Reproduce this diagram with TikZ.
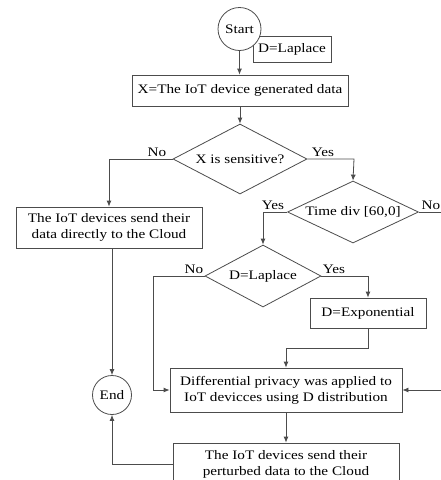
\documentclass[tikz,border=0pt]{standalone}
\usepackage{fontspec}
\setmainfont{Liberation Serif}[FakeStretch=1.17]
\usetikzlibrary{shapes.geometric,arrows.meta}
\begin{document}
\begin{tikzpicture}[x=1pt,y=-1pt,
  every node/.style={font=\fontsize{13}{16}\selectfont, text=black},
  ln/.style={draw=black!70, line width=0.8pt},
  arr/.style={ln, -{Latex[length=6pt,width=5pt]}},
  boxn/.style={draw=black!70, line width=0.8pt, fill=white, rectangle, inner sep=0pt, align=center},
  circn/.style={draw=black!70, line width=0.8pt, fill=white, circle, inner sep=0pt},
  dia/.style={draw=black!70, line width=0.8pt, fill=white, diamond, inner sep=0pt},
  lbl/.style={inner sep=0pt}]
\useasboundingbox (0,0) rectangle (441,480);
\clip (0,0) rectangle (441,480);
% top
\node[boxn, minimum width=78pt, minimum height=26pt] (dbox) at (292,49) {D=Laplace};
\node[circn, minimum size=43pt] (start) at (239.5,29) {Start};
\node[boxn, minimum width=216pt, minimum height=31pt] (xbox) at (240,90.5) {X=The IoT device generated data};
\node[dia, minimum width=134pt, minimum height=70pt] (d1) at (240,159) {};
\node[lbl] (t1) at (d1) {X is sensitive?};
\node[boxn, minimum width=186pt, minimum height=41pt] (left) at (109,227.5) {The IoT devices send their\\data directly to the Cloud};
\node[dia, minimum width=131pt, minimum height=62pt] (d2) at (353,212) {};
\node[lbl] (t2) at (d2) {Time div [60,0]};
\node[dia, minimum width=116pt, minimum height=62pt] (d3) at (263,276) {};
\node[lbl] (t3) at (d3) {D=Laplace};
\node[boxn, minimum width=116pt, minimum height=30pt] (exp) at (368,313) {D=Exponential};
\node[boxn, minimum width=232pt, minimum height=44pt] (diff) at (286,390) {Differential privacy was applied to\\IoT devicces using D distribution};
\node[boxn, minimum width=226pt, minimum height=42pt] (last) at (286,464) {The IoT devices send their\\perturbed data to the Cloud};
\node[circn, minimum size=39pt] (endc) at (112,395) {End};
% labels
\node[lbl] (l1) at (157,152) {No};
\node[lbl] (l2) at (323,152) {Yes};
\node[lbl] (l3) at (273,205) {Yes};
\node[lbl] (l4) at (431,205) {No};
\node[lbl] (l5) at (194,269) {No};
\node[lbl] (l6) at (334,269) {Yes};
% connectors
\coordinate (c1) at (109,159);
\coordinate (c2) at (354,159);
\coordinate (c3) at (263,212);
\coordinate (c4) at (446,212);
\coordinate (c5) at (446,390);
\coordinate (c6) at (153,276);
\coordinate (c7) at (153,390);
\coordinate (c8) at (368,276);
\coordinate (c9) at (368,348);
\coordinate (c10) at (286,348);
\coordinate (c11) at (112,464);
\draw[arr] (start.south) -- (start.south |- xbox.north);
\draw[arr] (xbox.south) -- (d1.north);
\draw[arr] (d1.west) -- (c1) -- (left.north);
\draw[arr] (d1.east) -- (c2) -- (d2.north);
\draw[arr] (d2.west) -- (c3) -- (d3.north);
\draw[arr] (d2.east) -- (c4) -- (c5) -- (diff.east);
\draw[arr] (d3.west) -- (c6) -- (c7) -- (diff.west);
\draw[arr] (d3.east) -- (c8) -- (exp.north);
\draw[arr] (exp.south) -- (c9) -- (c10) -- (diff.north);
\draw[arr] (diff.south) -- (last.north);
\draw[arr] (left.south -| endc) -- (endc.north);
\draw[arr] (last.west |- c11) -- (c11) -- (endc.south);
\end{tikzpicture}
\end{document}
